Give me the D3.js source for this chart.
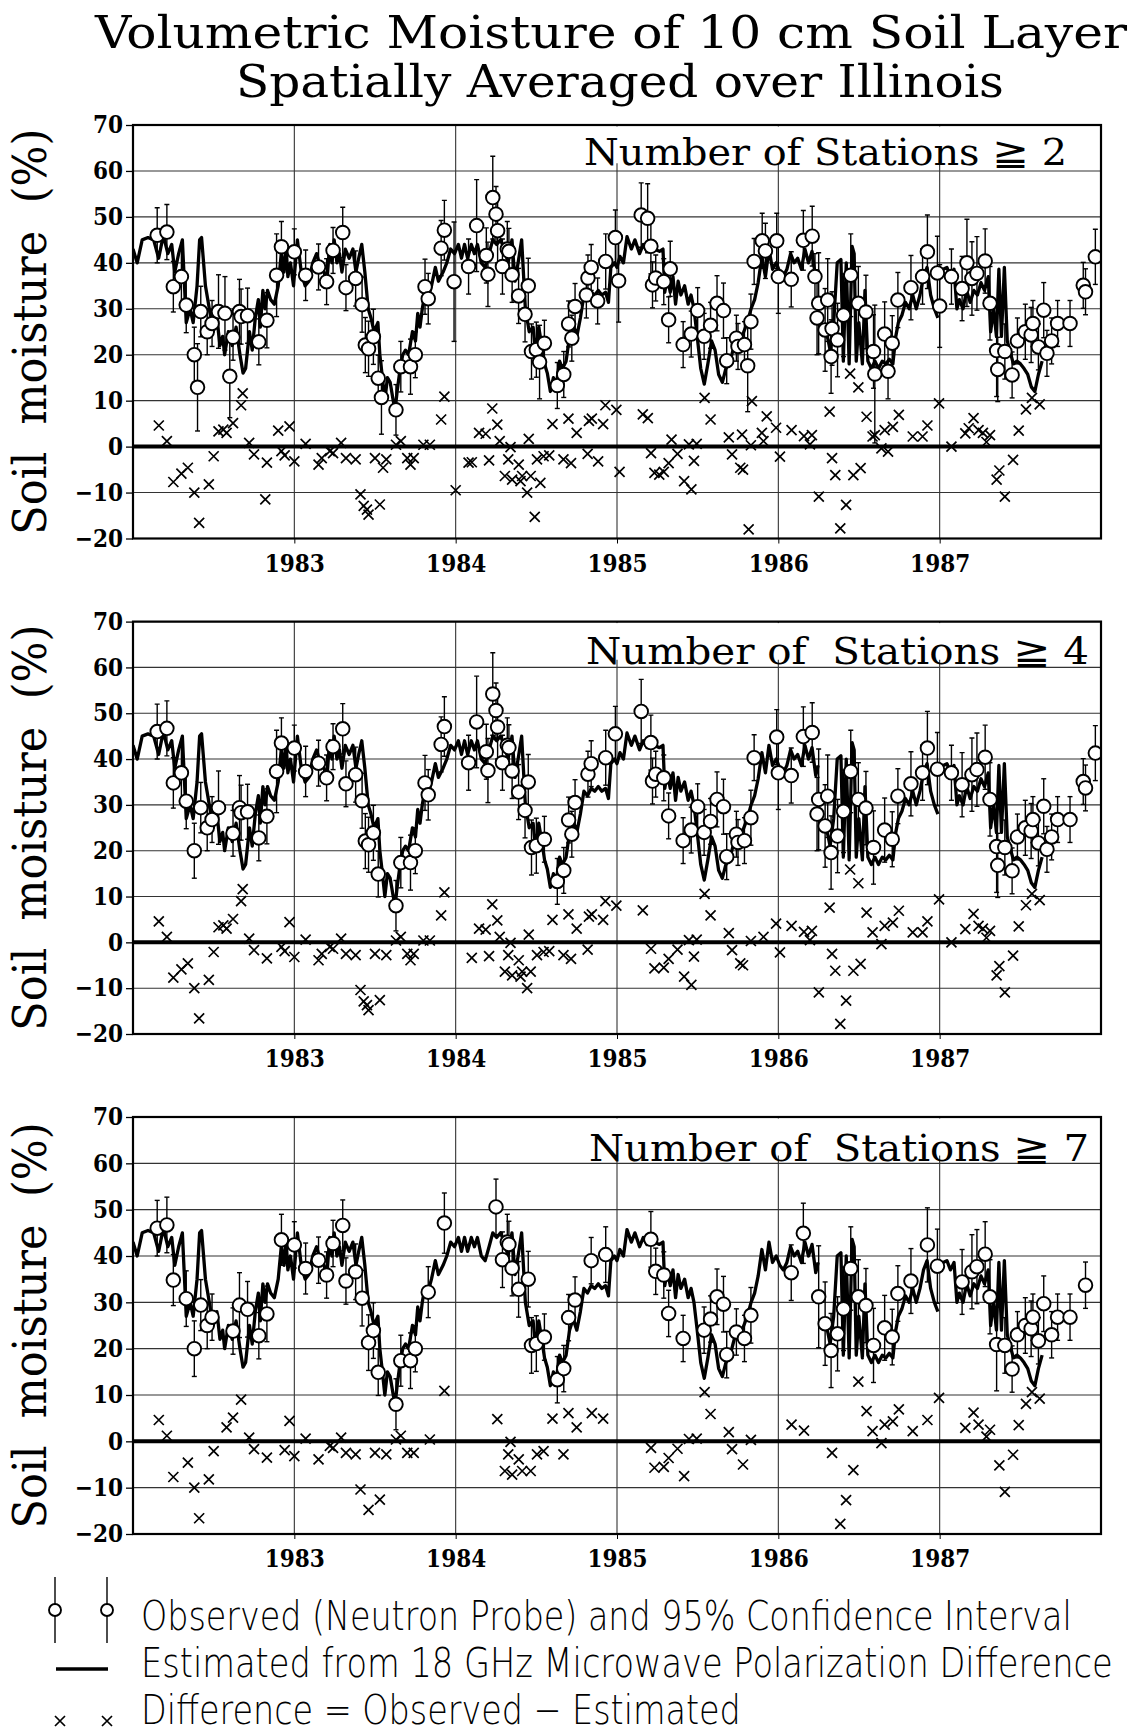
<!DOCTYPE html>
<html>
<head>
<meta charset="utf-8">
<style>
body { margin: 0; background: #fff; }
.grid line { stroke: #333; stroke-width: 1.1; }
.est { fill: none; stroke: #000; stroke-width: 3.3; stroke-linejoin: round; }
.bar { stroke: #000; stroke-width: 1.4; }
.obs { fill: #fff; stroke: #000; stroke-width: 1.9; }
.dif { stroke: #000; stroke-width: 1.7; }
.ttl { font-family: "DejaVu Serif Condensed", "DejaVu Serif", serif; font-stretch: condensed; }
.lg { font-family: "DejaVu Sans", sans-serif; font-weight: 200; font-size: 41px; }
</style>
</head>
<body>
<svg width="1137" height="1734"></svg>
<script src="https://d3js.org/d3.v7.min.js"></script>
<script>

// estimated soil moisture (18 GHz polarization difference), decimal year / %
var estYear = [1982.000,1982.026,1982.057,1982.093,1982.128,1982.159,1982.188,1982.216,1982.240,1982.259,1982.283,1982.306,1982.330,1982.354,1982.373,1982.397,1982.413,1982.425,1982.449,1982.473,1982.496,1982.520,1982.539,1982.556,1982.568,1982.591,1982.615,1982.639,1982.663,1982.682,1982.698,1982.722,1982.739,1982.758,1982.777,1982.789,1982.805,1982.819,1982.834,1982.853,1982.876,1982.900,1982.919,1982.936,1982.948,1982.960,1982.976,1982.995,
  1983.019,1983.043,1983.067,1983.090,1983.114,1983.138,1983.162,1983.185,1983.200,1983.219,1983.233,1983.247,1983.264,1983.280,1983.295,1983.316,1983.340,1983.363,1983.382,1983.399,1983.418,1983.437,1983.458,1983.475,1983.494,1983.518,1983.530,1983.546,1983.561,1983.577,1983.594,1983.613,1983.625,1983.637,1983.656,1983.672,1983.689,1983.708,1983.732,1983.751,1983.765,1983.779,1983.793,1983.808,1983.827,1983.850,1983.874,1983.893,1983.922,1983.945,1983.969,1983.993,
  1984.017,1984.036,1984.055,1984.074,1984.097,1984.116,1984.135,1984.159,1984.183,1984.207,1984.230,1984.254,1984.278,1984.302,1984.325,1984.349,1984.368,1984.387,1984.409,1984.432,1984.456,1984.480,1984.496,1984.515,1984.534,1984.551,1984.568,1984.587,1984.606,1984.622,1984.644,1984.662,1984.684,1984.706,1984.728,1984.751,1984.773,1984.795,1984.817,1984.840,1984.862,1984.884,1984.906,1984.929,1984.947,1984.962,1984.984,
  1985.000,1985.018,1985.040,1985.062,1985.089,1985.111,1985.140,1985.163,1985.185,1985.207,1985.229,1985.263,1985.285,1985.296,1985.312,1985.330,1985.347,1985.363,1985.379,1985.396,1985.419,1985.441,1985.459,1985.477,1985.497,1985.519,1985.541,1985.563,1985.586,1985.608,1985.630,1985.653,1985.675,1985.697,1985.719,1985.742,1985.764,1985.786,1985.808,1985.831,1985.853,1985.875,1985.898,1985.920,1985.942,1985.964,1985.987,
  1986.009,1986.031,1986.053,1986.076,1986.098,1986.120,1986.143,1986.165,1986.187,1986.209,1986.232,1986.247,1986.270,1986.298,1986.321,1986.343,1986.365,1986.388,1986.403,1986.421,1986.439,1986.457,1986.470,1986.483,1986.499,1986.521,1986.537,1986.555,1986.577,1986.599,1986.621,1986.644,1986.666,1986.688,1986.710,1986.728,1986.744,1986.766,1986.788,1986.811,1986.833,1986.855,1986.878,1986.900,1986.922,1986.944,1986.967,1986.989,
  1987.005,1987.022,1987.045,1987.067,1987.089,1987.107,1987.122,1987.145,1987.167,1987.189,1987.212,1987.234,1987.256,1987.278,1987.301,1987.316,1987.334,1987.352,1987.367,1987.383,1987.401,1987.419,1987.434,1987.457,1987.479,1987.501,1987.523,1987.546,1987.568,1987.590,1987.612,1987.635];
var estValue = [43,40,45,45.5,45,41,46,42,44,38,42,45,27,30,27,35,45,45.5,35,30,25,28,22,24,20,25,22,26,20,16,17,25,21,28,32,26,34,30,34,32,31,35,42,38,44,37,40,35,
  45,38,35,36,40,42,39,38,35,44,40,45,40,42,38,43,41,43,38,41,44,38,30,28,25,27,20,15,10,15,14,10,8,12,17,20,21,20,25,23,29,26,30,33,32,35,39,36,38,40,43,42,
  44,41,44,41,44,42,44,40,39,42,45,44,45,43,40,45,36,40,45,30,25,26,20,26,22,18,16,12,15,13,18.6,17,18.5,24,26.4,24,28,33,32,33.6,33,34,33,33.6,31.4,39,40,
  39,41.4,40,45.7,43,45,42,44,42.5,44,43,42.5,43,33.6,37,33.6,37,31,36,33,35,31,33,30,24,17,13.6,18,23,21,15.7,14,17,18,21,24,23,25,27,30,32,35.7,41.4,37,43,38.6,40,
  38,37,38.6,42,40,41,38.6,43,40,42.5,36.4,38.6,null,25,21,27,40,40.7,18.6,40,18,43.6,42,18.6,27,18,34,18.6,17,18.6,17,18.6,18,19,18,24,27,28.6,31.4,30,33,30,33,37,39,33,30,28,
  null,38.6,39,37,38.6,30,32,30,34,31.4,34,33,35.7,34,37,25,30,24,38.6,24,39,23,21,18,18.6,18,17,15.7,13,12,15.7,18.6];

// observed (neutron probe) means, 95% half-interval, largest station threshold met
var obsYear = [1982.15,1982.21,1982.25,1982.30,1982.33,1982.38,1982.40,1982.42,1982.46,1982.49,1982.53,1982.57,1982.60,1982.62,1982.66,1982.67,1982.71,1982.78,1982.83,1982.89,1982.92,
  1983.00,1983.07,1983.15,1983.20,1983.24,1983.30,1983.32,1983.38,1983.42,1983.44,1983.46,1983.49,1983.52,1983.54,1983.63,1983.66,1983.72,1983.75,1983.81,1983.83,1983.91,1983.93,1983.99,
  1984.08,1984.13,1984.19,1984.20,1984.23,1984.25,1984.26,1984.29,1984.32,1984.33,1984.35,1984.39,1984.43,1984.45,1984.47,1984.50,1984.52,1984.55,1984.63,1984.67,1984.70,1984.72,1984.74,1984.81,1984.82,1984.84,1984.88,1984.93,1984.99,
  1985.01,1985.15,1985.19,1985.21,1985.22,1985.24,1985.29,1985.32,1985.33,1985.41,1985.46,1985.50,1985.54,1985.58,1985.62,1985.66,1985.68,1985.74,1985.75,1985.79,1985.81,1985.83,1985.85,1985.90,1985.92,1985.99,
  1986.00,1986.08,1986.155,1986.21,1986.227,1986.24,1986.25,1986.29,1986.306,1986.327,1986.333,1986.367,1986.404,1986.449,1986.496,1986.543,1986.59,1986.598,1986.659,1986.68,1986.706,1986.741,1986.822,1986.894,1986.924,1986.986,
  1987.00,1987.073,1987.139,1987.169,1987.20,1987.231,1987.282,1987.312,1987.353,1987.36,1987.404,1987.449,1987.482,1987.531,1987.567,1987.578,1987.612,1987.645,1987.665,1987.694,1987.731,1987.808,1987.89,1987.904,1987.965];
var obsValue = [46.0,46.7,34.8,37.0,30.8,20.0,12.9,29.4,25.0,26.8,29.4,29.0,15.3,23.8,29.4,28.3,28.5,22.8,27.5,37.3,43.5,
  42.4,37.3,39.1,35.9,42.7,46.6,34.6,36.6,30.9,22.1,21.3,23.9,14.9,10.7,8.0,17.4,17.4,20.0,34.8,32.2,43.2,47.1,35.9,
  39.2,48.1,41.6,37.5,54.2,50.6,47.0,39.2,43.0,42.5,37.4,32.8,28.8,35.0,20.7,21.1,18.4,22.5,13.3,15.7,26.7,23.6,30.5,33.0,36.7,39.0,31.7,40.3,45.5,
  36.1,50.4,49.7,43.6,35.2,36.7,35.9,27.6,38.7,22.2,24.5,29.6,24.0,26.4,31.2,29.6,18.7,23.6,21.8,22.2,17.6,27.2,40.3,44.8,42.6,44.8,
  37.0,36.4,44.9,45.8,37.0,28.0,31.2,25.4,31.9,19.6,25.7,23.2,28.6,37.3,31.2,29.3,20.7,15.8,24.5,16.4,22.5,31.9,34.6,37.0,42.4,37.8,
  30.6,37.0,34.4,40.0,36.6,37.7,40.4,31.2,20.9,16.8,20.7,15.6,23.0,25.0,24.3,26.8,21.7,29.7,20.3,23.0,26.8,26.8,35.1,33.7,41.3];
var obsErr = [6,6,5.5,6,6,6,9.5,5.5,5,5,8,8,9,5,7,6,6,5,6,9,5.5,
  5,5.5,5,5,5,5.5,5,6,6,6,6,6,5,8,5.5,5.5,6,5,6,5.5,6,6.5,13,
  6,10,6,7,9,6,7,6,6,5,6,6,6,6,6,6,8,5,5,5,5,5,5,5,5,5,5,6,6,
  9,7,7.5,6,5,5,5,5,6,5,5,5,5,5,6,6,5,5,5,5,10,6,5,6,6,6,
  8,6,6.5,6.5,5,8,11,9,9,8,8,8,9,9,8,8,8,15,7,6,6,6,7,6,8,8,
  9,6,7,9.5,8,8,7,8,10,7,6,5,5,6,6,5,5,6,5,5,5,5,5,5,6];
var obsStations = [7,7,7,4,7,7,2,7,7,7,4,2,2,7,7,4,7,7,7,4,7,
  7,7,7,7,7,7,7,7,7,4,7,7,7,2,7,7,7,7,4,7,4,7,2,
  4,4,4,4,4,7,4,7,7,7,7,7,4,7,7,7,2,7,7,7,7,4,7,2,4,7,2,7,4,
  2,4,2,7,4,7,7,7,2,7,4,4,7,7,7,7,7,7,4,7,2,7,4,2,2,4,
  4,7,7,4,2,4,7,7,4,7,2,7,7,7,7,7,7,2,7,2,7,7,7,4,7,7,
  2,4,7,2,7,7,7,7,7,4,7,7,7,7,7,7,7,7,4,7,7,7,4,7,4];

// difference = observed - estimated
var difYear = [1982.16,1982.21,1982.25,1982.30,1982.34,1982.38,1982.41,1982.47,1982.50,1982.53,1982.56,1982.58,1982.62,1982.67,1982.68,1982.72,1982.75,1982.82,1982.83,1982.90,1982.92,1982.94,1982.97,
  1983.00,1983.07,1983.15,1983.17,1983.22,1983.24,1983.29,1983.32,1983.38,1983.41,1983.43,1983.45,1983.46,1983.50,1983.53,1983.55,1983.57,1983.63,1983.66,1983.70,1983.72,1983.74,1983.80,1983.84,1983.91,1983.93,
  1984.00,1984.08,1984.10,1984.145,1984.186,1984.207,1984.227,1984.258,1984.273,1984.305,1984.326,1984.340,1984.350,1984.391,1984.402,1984.412,1984.443,1984.453,1984.465,1984.490,1984.504,1984.525,1984.545,1984.580,1984.600,1984.668,1984.699,1984.715,1984.750,1984.818,1984.826,1984.844,1984.883,1984.914,1984.928,1984.996,
  1985.016,1985.160,1985.191,1985.211,1985.232,1985.262,1985.290,1985.320,1985.338,1985.375,1985.416,1985.446,1985.461,1985.477,1985.494,1985.543,1985.580,1985.693,1985.713,1985.764,1985.775,1985.781,1985.816,1985.830,1985.836,1985.898,1985.908,1985.928,1985.986,
  1986.010,1986.082,1986.159,1986.196,1986.208,1986.251,1986.318,1986.333,1986.353,1986.384,1986.420,1986.445,1986.465,1986.496,1986.510,1986.547,1986.584,1986.598,1986.639,1986.659,1986.680,1986.710,1986.747,1986.833,1986.894,1986.924,1986.996,
  1987.073,1987.159,1987.180,1987.210,1987.241,1987.268,1987.290,1987.312,1987.353,1987.370,1987.404,1987.455,1987.490,1987.535,1987.572,1987.620];
var difValue = [4.6,1.2,-7.7,-5.9,-4.6,-10.0,-16.6,-8.2,-2.1,3.3,3.7,3.0,5.1,9.0,11.6,0.8,-1.7,-11.5,-3.5,3.5,-1.0,-1.9,4.4,
  -3.2,0.6,-3.9,-2.5,-1.0,-1.4,0.8,-2.5,-2.8,-10.4,-12.9,-13.7,-14.8,-2.5,-12.6,-4.6,-2.8,0.4,1.2,-2.5,-3.9,-2.5,0.4,0.4,5.9,10.9,
  -9.5,-3.5,-3.4,3.0,2.8,-3.0,8.3,4.8,1.2,-6.4,-2.8,-0.1,-7.2,-3.9,-7.5,-6.4,-10.0,1.7,-6.4,-15.3,-2.8,-7.9,-2.1,-1.9,4.9,-2.8,6.1,-3.6,3.0,-1.6,5.6,6.1,-3.2,4.9,9.0,8.0,
  -5.5,7.0,6.2,-1.4,-5.7,-6.1,-5.5,-3.6,1.5,-1.6,-7.5,0.5,-9.3,-3.1,0.6,10.6,5.9,2.0,-1.7,-4.6,2.6,-5.0,-18.0,0.3,9.9,3.0,1.2,6.6,4.1,
  -2.2,3.6,2.3,0.5,2.5,-10.9,7.6,-2.5,-6.2,-17.8,-12.7,15.9,-6.2,12.9,-4.7,6.5,2.2,2.5,-0.4,3.6,-1.1,4.3,6.9,2.2,2.2,4.6,9.4,
  0.0,2.9,4.0,6.2,3.6,3.0,1.0,2.5,-7.2,-5.2,-10.9,-2.9,3.5,8.1,10.6,9.2];
var difStations = [7,7,7,4,7,7,7,7,7,4,4,7,7,7,4,7,7,2,7,2,4,7,7,
  7,7,7,4,7,7,7,7,7,7,4,4,7,7,7,2,7,7,7,7,4,7,4,7,4,7,
  2,2,4,4,4,4,4,7,4,7,7,7,7,7,4,7,4,4,7,2,7,2,7,4,7,7,7,4,7,4,4,7,2,7,4,4,
  2,4,2,7,7,2,7,7,2,7,7,7,4,4,7,7,7,7,7,4,2,7,2,7,2,2,4,2,4,
  4,7,7,4,4,4,4,7,4,7,7,4,7,7,4,7,7,2,7,7,2,7,7,7,4,7,7,
  4,7,2,7,7,4,7,7,4,7,7,7,7,7,7,7];

var stationMin = [2, 4, 7];
var panelLabels = ["Number of Stations \u2267 2", "Number of  Stations \u2267 4", "Number of  Stations \u2267 7"];
var yTicks = [-20, -10, 0, 10, 20, 30, 40, 50, 60, 70];
var yearTicks = [1983, 1984, 1985, 1986, 1987];

// layout
var panelTop = [125, 621.6, 1117],
    panelBottom = [538.5, 1034, 1534],
    labelX = [584, 586, 589],
    labelW = [483, 503, 500],
    labelDy = [40, 42, 44];

var svg = d3.select("svg");

var x = d3.scaleLinear()
    .domain([1982, 1988])
    .range([133, 1101]);

var est = estYear.map(function(t, i) { return {t: t, v: estValue[i]}; });
var obs = obsYear.map(function(t, i) { return {t: t, v: obsValue[i], e: obsErr[i], n: obsStations[i]}; });
var dif = difYear.map(function(t, i) { return {t: t, v: difValue[i], n: difStations[i]}; });

var fmt = function(d) { return d < 0 ? "\u2212" + (-d) : d; };

// squeeze a text horizontally to a given width
function fitWidth(sel, x0, y0, w) {
  var n = sel.node().getComputedTextLength();
  sel.attr("transform", "translate(" + x0 + "," + y0 + ") scale(" + (w / n) + ",1)");
}

// title
svg.append("text").attr("class", "ttl")
    .attr("x", 95).attr("y", 48)
    .attr("font-size", 45)
    .attr("textLength", 1032).attr("lengthAdjust", "spacingAndGlyphs")
    .text("Volumetric Moisture of 10 cm Soil Layer");
svg.append("text").attr("class", "ttl")
    .attr("x", 236).attr("y", 97)
    .attr("font-size", 45)
    .attr("textLength", 768).attr("lengthAdjust", "spacingAndGlyphs")
    .text("Spatially Averaged over Illinois");

stationMin.forEach(function(minSt, i) {
  var y = d3.scaleLinear()
      .domain([-20, 70])
      .range([panelBottom[i], panelTop[i]]);

  var g = svg.append("g");

  var clipId = "clip" + i;
  g.append("clipPath").attr("id", clipId)
    .append("rect")
      .attr("x", x(1982)).attr("y", y(70))
      .attr("width", x(1988) - x(1982)).attr("height", y(-20) - y(70));

  var grid = g.append("g").attr("class", "grid");
  grid.selectAll(".h").data(yTicks).enter().append("line")
      .attr("x1", x(1982)).attr("x2", x(1988))
      .attr("y1", function(d) { return y(d); })
      .attr("y2", function(d) { return y(d); });
  grid.selectAll(".v").data(yearTicks).enter().append("line")
      .attr("x1", function(d) { return x(d); })
      .attr("x2", function(d) { return x(d); })
      .attr("y1", y(70)).attr("y2", y(-20));

  var ya = g.append("g")
      .attr("transform", "translate(" + x(1982) + ",0)")
      .call(d3.axisLeft(y).tickValues(yTicks).tickSize(7).tickPadding(3).tickFormat(fmt));
  ya.attr("font-family", "'DejaVu Serif Condensed', 'DejaVu Serif', serif")
    .attr("font-size", 24).attr("font-weight", "bold");
  ya.select(".domain").remove();
  ya.selectAll("line").attr("stroke-width", 1.3);

  var xa = g.append("g")
      .attr("transform", "translate(0," + y(-20) + ")")
      .call(d3.axisBottom(x).tickValues(yearTicks).tickSize(5).tickPadding(11).tickFormat(d3.format("d")));
  xa.attr("font-family", "'DejaVu Serif Condensed', 'DejaVu Serif', serif")
    .attr("font-size", 24).attr("font-weight", "bold");
  xa.select(".domain").remove();

  g.append("line")
      .attr("x1", x(1982)).attr("x2", x(1988))
      .attr("y1", y(0)).attr("y2", y(0))
      .attr("stroke", "#000").attr("stroke-width", 4);

  var marks = g.append("g").attr("clip-path", "url(#" + clipId + ")");

  marks.append("path")
      .datum(est)
      .attr("class", "est")
      .attr("d", d3.line()
        .defined(function(d) { return d.v != null; })
        .x(function(d) { return x(d.t); })
        .y(function(d) { return y(d.v); }));

  var sub = obs.filter(function(d) { return d.n >= minSt; });

  var bars = marks.selectAll(".bars").data(sub).enter().append("g");
  bars.append("line").attr("class", "bar")
      .attr("x1", function(d) { return x(d.t); })
      .attr("x2", function(d) { return x(d.t); })
      .attr("y1", function(d) { return y(d.v - d.e); })
      .attr("y2", function(d) { return y(d.v + d.e); });
  bars.append("line").attr("class", "bar")
      .attr("x1", function(d) { return x(d.t) - 2.5; })
      .attr("x2", function(d) { return x(d.t) + 2.5; })
      .attr("y1", function(d) { return y(d.v + d.e); })
      .attr("y2", function(d) { return y(d.v + d.e); });
  bars.append("line").attr("class", "bar")
      .attr("x1", function(d) { return x(d.t) - 2.5; })
      .attr("x2", function(d) { return x(d.t) + 2.5; })
      .attr("y1", function(d) { return y(d.v - d.e); })
      .attr("y2", function(d) { return y(d.v - d.e); });

  marks.selectAll(".obs").data(sub).enter().append("circle")
      .attr("class", "obs")
      .attr("cx", function(d) { return x(d.t); })
      .attr("cy", function(d) { return y(d.v); })
      .attr("r", 6.8);

  marks.selectAll(".dif").data(dif.filter(function(d) { return d.n >= minSt; }))
    .enter().append("path")
      .attr("class", "dif")
      .attr("d", function(d) {
        var cx = x(d.t), cy = y(d.v), s = 5;
        return "M" + (cx - s) + "," + (cy - s) + "L" + (cx + s) + "," + (cy + s) +
               "M" + (cx - s) + "," + (cy + s) + "L" + (cx + s) + "," + (cy - s);
      });

  g.append("rect")
      .attr("x", labelX[i] - 8).attr("y", y(70) + 1.5)
      .attr("width", x(1988) - labelX[i] + 6).attr("height", y(62) - y(70))
      .attr("fill", "#fff");

  g.append("rect")
      .attr("x", x(1982)).attr("y", y(70))
      .attr("width", x(1988) - x(1982)).attr("height", y(-20) - y(70))
      .attr("fill", "none").attr("stroke", "#000").attr("stroke-width", 2.2);

  g.append("text").attr("class", "ttl")
      .attr("x", labelX[i]).attr("y", y(70) + labelDy[i])
      .attr("font-size", 37)
      .attr("xml:space", "preserve").style("white-space", "pre")
      .attr("textLength", labelW[i]).attr("lengthAdjust", "spacingAndGlyphs")
      .text(panelLabels[i]);

  g.append("text")
      .attr("transform", "translate(46," + ((y(70) + y(-20)) / 2) + ") rotate(-90)")
      .attr("text-anchor", "middle")
      .attr("font-family", "'DejaVu Serif', serif")
      .attr("font-size", 46)
      .attr("xml:space", "preserve").style("white-space", "pre")
      .attr("textLength", 406).attr("lengthAdjust", "spacingAndGlyphs")
      .text("Soil  moisture  (%)");
});

// legend
var lg = svg.append("g");
[55, 107].forEach(function(cx) {
  lg.append("line").attr("class", "bar")
      .attr("x1", cx).attr("x2", cx).attr("y1", 1577).attr("y2", 1643);
  lg.append("circle").attr("class", "obs")
      .attr("cx", cx).attr("cy", 1610).attr("r", 6);
});
lg.append("line")
    .attr("x1", 56).attr("x2", 108).attr("y1", 1669).attr("y2", 1669)
    .attr("stroke", "#000").attr("stroke-width", 3.5);
[60, 107].forEach(function(cx) {
  lg.append("path").attr("class", "dif")
      .attr("d", "M" + (cx - 5) + "," + 1716 + "L" + (cx + 5) + "," + 1726 +
                 "M" + (cx - 5) + "," + 1726 + "L" + (cx + 5) + "," + 1716);
});
var legendText = ["Observed (Neutron Probe) and 95% Confidence Interval",
                  "Estimated from 18 GHz Microwave Polarization Difference",
                  "Difference = Observed \u2212 Estimated"];
var legendW = [931, 972, 600], legendY = [1630, 1677, 1724];
legendText.forEach(function(t, i) {
  var tx = lg.append("text").attr("class", "lg").text(t);
  fitWidth(tx, 141, legendY[i], legendW[i]);
});

</script>
</body>
</html>
